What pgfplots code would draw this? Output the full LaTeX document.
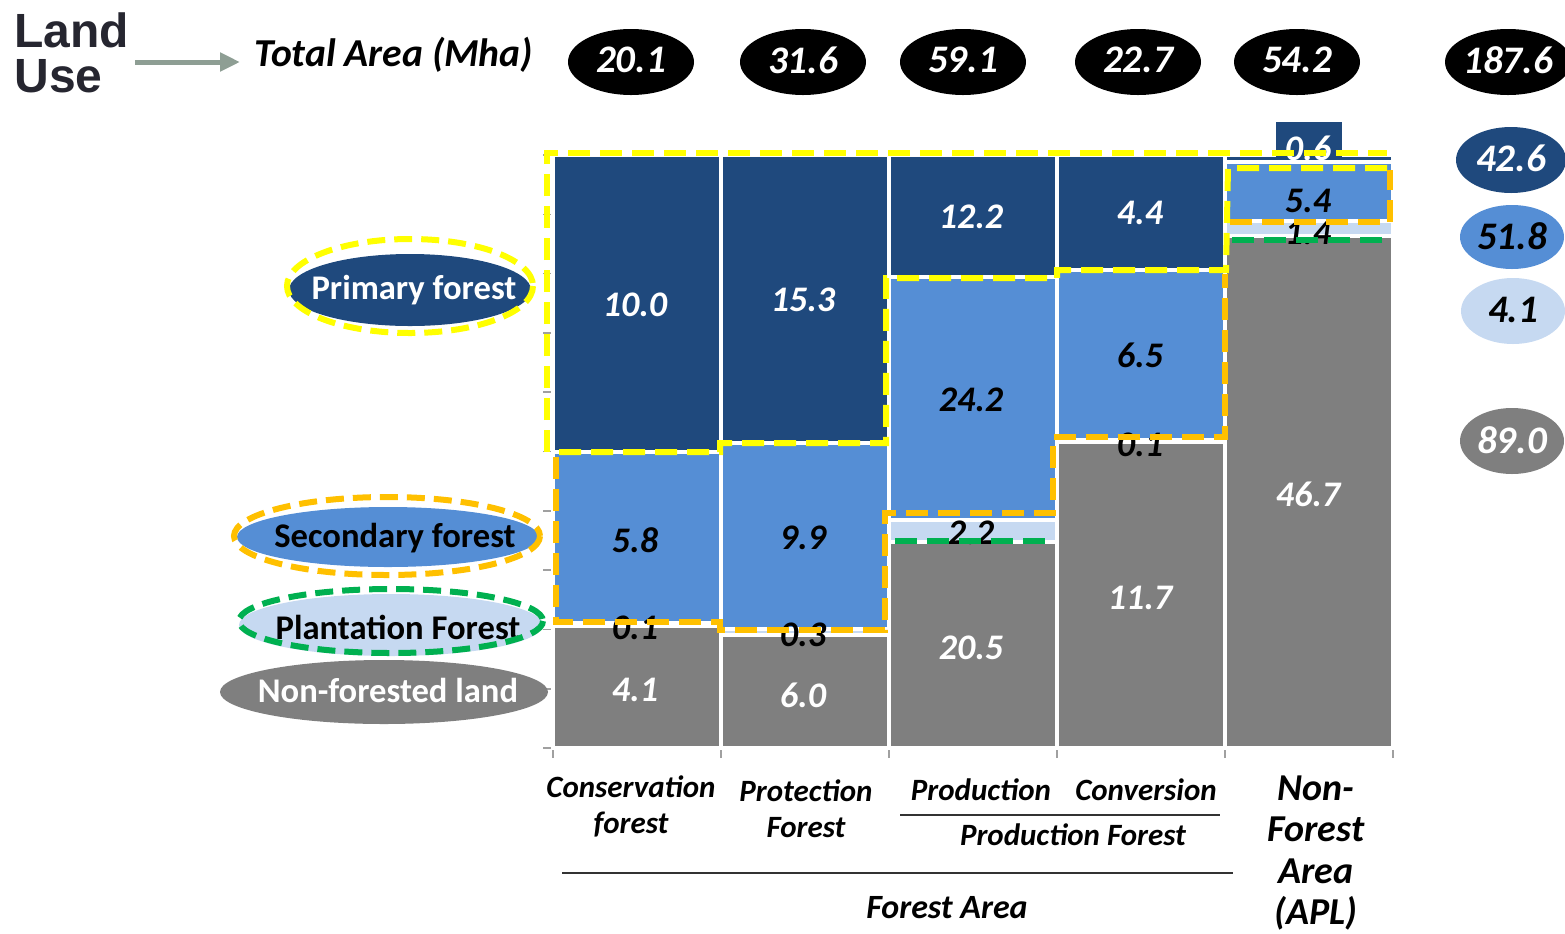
\documentclass[border=0pt]{standalone}
\usepackage{pgfplots}
\pgfplotsset{compat=1.18}
\usepackage{pgfplotstable}
\usepackage{fontspec}
\setmainfont{Carlito}
\newfontfamily\arialfont{Liberation Sans}
\usetikzlibrary{arrows.meta}

\definecolor{prim}{HTML}{1F497D}
\definecolor{seco}{HTML}{558ED5}
\definecolor{plan}{HTML}{C6D9F1}
\definecolor{nonf}{HTML}{7F7F7F}
\definecolor{hlyel}{HTML}{FFFF00}
\definecolor{hlora}{HTML}{FFC000}
\definecolor{hlgrn}{HTML}{00B050}
\definecolor{arrowc}{HTML}{8E9E94}
\definecolor{axisc}{HTML}{A0A0A0}
\definecolor{landc}{HTML}{262630}

% land use (Mha): non-forested, plantation, secondary, primary
\pgfplotstableread{
x nf pl se pr
0 4.1 0.1 5.8 10.0
1 6.0 0.3 9.9 15.3
2 20.5 2.2 24.2 12.2
3 11.7 0.1 6.5 4.4
4 46.7 1.4 5.4 0.6
}\landuse

\newcommand{\share}[1]{100*\thisrow{#1}/(\thisrow{nf}+\thisrow{pl}+\thisrow{se}+\thisrow{pr})}

\begin{document}
\begin{tikzpicture}[
  num/.style={font=\bfseries\itshape\fontsize{18}{20}\selectfont, inner sep=0pt},
  big/.style={font=\bfseries\itshape\fontsize{19.5}{22}\selectfont, inner sep=0pt},
  cat/.style={font=\bfseries\itshape\fontsize{15.5}{18}\selectfont, inner sep=0pt, align=center},
  leg/.style={font=\bfseries\fontsize{17.3}{20}\selectfont, inner sep=0pt},
  hl/.style={dash pattern=on 11pt off 5pt, line width=3pt},
  hle/.style={dash pattern=on 9pt off 4.5pt, line width=3pt},
]
\useasboundingbox (0pt,-466.5pt) rectangle (782.5pt,0pt);

\begin{axis}[
  at={(276.5pt,-374pt)}, anchor=south west,
  scale only axis, width=420pt, height=296.5pt,
  xmin=-0.5, xmax=4.5, ymin=0, ymax=100,
  ybar stacked, bar width=1,
  axis x line*=bottom, axis y line*=left,
  xtick={-0.5,0.5,...,4.5}, xticklabels={},
  ytick={0,10,...,100}, yticklabels={},
  tick align=outside, major tick length=5pt,
  tick style={axisc, line width=0.8pt},
  axis line style={axisc, line width=1pt},
  clip=false,
  every axis plot/.append style={draw=white, line width=2pt},
]
\addplot[fill=nonf] table[x=x, y expr=\share{nf}] {\landuse};
\addplot[fill=plan] table[x=x, y expr=\share{pl}] {\landuse};
\addplot[fill=seco] table[x=x, y expr=\share{se}] {\landuse};
\addplot[fill=prim] table[x=x, y expr=\share{pr}] {\landuse};
\end{axis}

\begin{scope}[x=0.5pt, y=-0.5pt]
% header
\node[anchor=base west, inner sep=0pt, text=landc, font=\arialfont\bfseries\fontsize{24}{26}\selectfont] at (14,47) {Land};
\node[anchor=base west, inner sep=0pt, text=landc, font=\arialfont\bfseries\fontsize{24}{26}\selectfont] at (14,92) {Use};
\draw[arrowc, line width=2.5pt, -{Triangle[length=10pt, width=9pt]}] (135,62) -- (240,62);
\node[anchor=west, font=\bfseries\itshape\fontsize{19.8}{22}\selectfont, inner sep=0pt] at (254,55) {Total Area (Mha)};

% totals
\foreach \cx/\v in {631/20.1, 803/31.6, 963/59.1, 1138/22.7, 1297/54.2, 1508/187.6} {
  \fill[black] (\cx,62) ellipse [x radius=63, y radius=33];
  \node[big, white] at (\cx,60) {\v};
}
\fill[prim] (1511,160) ellipse [x radius=55, y radius=33];
\node[big, white] at (1511,158) {42.6};
\fill[seco] (1512,237) ellipse [x radius=52, y radius=32];
\node[big] at (1512,236) {51.8};
\fill[plan] (1513,311) ellipse [x radius=52, y radius=33];
\node[big] at (1513,310) {4.1};
\fill[nonf] (1512,441) ellipse [x radius=52, y radius=33];
\node[big, white] at (1512,440) {89.0};

% legend ovals
\fill[prim] (410,290) ellipse [x radius=121, y radius=36];
\node[leg, white] at (414,290) {Primary forest};
\draw[hlyel, hle] (410,286) ellipse [x radius=123, y radius=47];
\fill[seco] (388,537) ellipse [x radius=151, y radius=30];
\node[leg] at (395,538) {Secondary forest};
\draw[hlora, hle] (387,536) ellipse [x radius=153, y radius=39];
\fill[plan] (391,625) ellipse [x radius=152, y radius=31];
\node[leg] at (398,627) {Plantation Forest};
\draw[hlgrn, hle] (391,621) ellipse [x radius=152, y radius=32];
\fill[nonf] (384,692) ellipse [x radius=164, y radius=32];
\node[leg, white] at (388,690) {Non-forested land};

% bar labels
\node[num, white] at (635,305) {10.0};
\node[num] at (635,540) {5.8};
\node[num] at (635,628) {0.1};
\node[num, white] at (635,690) {4.1};
\node[num, white] at (803,300) {15.3};
\node[num] at (803,538) {9.9};
\node[num] at (803,635) {0.3};
\node[num, white] at (803,695) {6.0};
\node[num, white] at (971,217) {12.2};
\node[num] at (971,400) {24.2};
\node[num] at (971,533) {2.2};
\node[num, white] at (971,648) {20.5};
\node[num, white] at (1140,213) {4.4};
\node[num] at (1140,355) {6.5};
\node[num] at (1140,445) {0.1};
\node[num, white] at (1140,598) {11.7};
\fill[prim] (1276,122) rectangle (1342,160);
\node[num, white] at (1308,148) {0.6};
\node[num] at (1308,201) {5.4};
\node[num] at (1308,233) {1.4};
\node[num, white] at (1308,494) {46.7};

% highlight outlines
\draw[hlyel, hl] (547,452) -- (547,153) -- (1387,153);
\draw[hlyel, hl] (1387,168) -- (1228,168) -- (1226,270) -- (1057,270) -- (1057,278) -- (886,278) -- (886,443) -- (720,443) -- (720,452) -- (553,452);
\draw[hlora, hl] (556,457) -- (556,622) -- (720,622) -- (720,630) -- (885,630) -- (885,513) -- (1053,513) -- (1053,437) -- (1225,437) -- (1225,274);
\draw[hlora, hl] (1230,222) -- (1390,222) -- (1390,170);
\draw[hlgrn, hl] (895,541) -- (1050,541);
\draw[hlgrn, hl] (1232,240) -- (1386,240);

% category labels
\node[cat] at (631,806) {Conservation\\forest};
\node[cat] at (806,809) {Protection\\Forest};
\node[cat] at (981,790) {Production};
\node[cat] at (1146,790) {Conversion};
\draw[black!80, line width=0.8pt] (900,815) -- (1220,815);
\node[cat] at (1073,835) {Production Forest};
\draw[black!80, line width=0.8pt] (562,873) -- (1233,873);
\node[font=\bfseries\itshape\fontsize{17}{20}\selectfont, inner sep=0pt] at (947,908) {Forest Area};
\node[font=\bfseries\itshape\fontsize{19}{20.8}\selectfont, inner sep=0pt, align=center] at (1316,853) {Non-\\Forest\\Area\\(APL)};
\end{scope}
\end{tikzpicture}
\end{document}
